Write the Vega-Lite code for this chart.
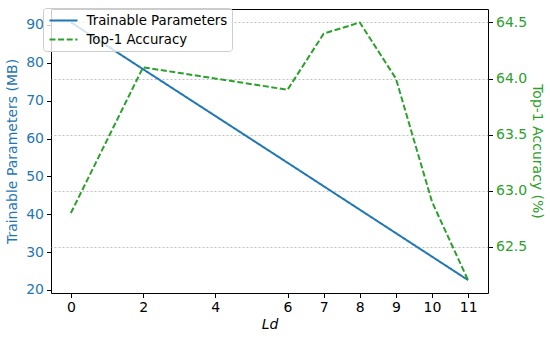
{
  "$schema": "https://vega.github.io/schema/vega-lite/v6.json",
  "width": 437,
  "height": 284,
  "autosize": "none",
  "padding": {"left": 51, "top": 9, "right": 62, "bottom": 45},
  "config": {
    "view": {"stroke": "black", "strokeWidth": 1},
    "font": "DejaVu Sans",
    "axis": {
      "labelFont": "DejaVu Sans",
      "titleFont": "DejaVu Sans",
      "labelFontSize": 14,
      "titleFontSize": 14,
      "titleFontWeight": "normal",
      "domain": false,
      "tickColor": "black",
      "tickSize": 4.5,
      "tickWidth": 1,
      "labelPadding": 3
    },
    "legend": {
      "labelFont": "DejaVu Sans",
      "labelFontSize": 13.3,
      "labelColor": "black"
    }
  },
  "layer": [
    {
      "data": {
        "values": [
          {"Ld": 0, "value": 90.7, "series": "Trainable Parameters"},
          {"Ld": 2, "value": 78.3, "series": "Trainable Parameters"},
          {"Ld": 6, "value": 53.6, "series": "Trainable Parameters"},
          {"Ld": 7, "value": 47.4, "series": "Trainable Parameters"},
          {"Ld": 8, "value": 41.2, "series": "Trainable Parameters"},
          {"Ld": 9, "value": 35.0, "series": "Trainable Parameters"},
          {"Ld": 10, "value": 28.8, "series": "Trainable Parameters"},
          {"Ld": 11, "value": 22.6, "series": "Trainable Parameters"}
        ]
      },
      "mark": {"type": "line", "strokeWidth": 2, "clip": true},
      "encoding": {
        "x": {
          "field": "Ld", "type": "quantitative",
          "scale": {"domain": [-0.55, 11.55], "nice": false, "zero": false},
          "axis": {
            "values": [0, 2, 4, 6, 7, 8, 9, 10, 11],
            "grid": false,
            "title": "Ld",
            "titleFontStyle": "italic",
            "titlePadding": 3,
            "labelColor": "black",
            "titleColor": "black"
          }
        },
        "y": {
          "field": "value", "type": "quantitative",
          "scale": {"domain": [19.2, 94.2], "nice": false, "zero": false},
          "axis": {
            "orient": "left",
            "values": [20, 30, 40, 50, 60, 70, 80, 90],
            "grid": false,
            "title": "Trainable Parameters (MB)",
            "labelColor": "#1f77b4",
            "titleColor": "#1f77b4",
            "titlePadding": 6
          }
        },
        "color": {
          "field": "series", "type": "nominal",
          "scale": {"domain": ["Trainable Parameters", "Top-1 Accuracy"], "range": ["#1f77b4", "#2ca02c"]},
          "legend": {
            "title": null,
            "orient": "none",
            "legendX": -8,
            "legendY": -1,
            "padding": 4.5,
            "rowPadding": 4,
            "symbolType": "M-2,0H2",
            "symbolSize": 196,
            "symbolOffset": 8,
            "symbolStrokeWidth": 2,
            "labelOffset": 15,
            "fillColor": "rgba(255,255,255,0.8)",
            "strokeColor": "#cccccc",
            "cornerRadius": 3
          }
        },
        "strokeDash": {
          "field": "series", "type": "nominal",
          "scale": {"domain": ["Trainable Parameters", "Top-1 Accuracy"], "range": [[1, 0], [6, 2.6]]},
          "legend": {
            "title": null,
            "orient": "none",
            "legendX": -8,
            "legendY": -1,
            "padding": 4.5,
            "rowPadding": 4,
            "symbolType": "M-2,0H2",
            "symbolSize": 196,
            "symbolOffset": 8,
            "symbolStrokeWidth": 2,
            "labelOffset": 15,
            "fillColor": "rgba(255,255,255,0.8)",
            "strokeColor": "#cccccc",
            "cornerRadius": 3
          }
        }
      }
    },
    {
      "data": {
        "values": [
          {"Ld": 0, "value": 62.8, "series": "Top-1 Accuracy"},
          {"Ld": 2, "value": 64.1, "series": "Top-1 Accuracy"},
          {"Ld": 6, "value": 63.9, "series": "Top-1 Accuracy"},
          {"Ld": 7, "value": 64.4, "series": "Top-1 Accuracy"},
          {"Ld": 8, "value": 64.5, "series": "Top-1 Accuracy"},
          {"Ld": 9, "value": 64.0, "series": "Top-1 Accuracy"},
          {"Ld": 10, "value": 62.9, "series": "Top-1 Accuracy"},
          {"Ld": 11, "value": 62.2, "series": "Top-1 Accuracy"}
        ]
      },
      "mark": {"type": "line", "strokeWidth": 2, "clip": true},
      "encoding": {
        "x": {"field": "Ld", "type": "quantitative"},
        "y": {
          "field": "value", "type": "quantitative",
          "scale": {"domain": [62.087, 64.62], "nice": false, "zero": false},
          "axis": {
            "orient": "right",
            "values": [62.5, 63.0, 63.5, 64.0, 64.5],
            "format": ".1f",
            "grid": true,
            "gridColor": "#b0b0b0",
            "gridDash": [2, 2],
            "gridWidth": 0.8,
            "title": "Top-1 Accuracy (%)",
            "labelColor": "#2ca02c",
            "titleColor": "#2ca02c",
            "titlePadding": 3
          }
        },
        "color": {"field": "series", "type": "nominal"},
        "strokeDash": {"field": "series", "type": "nominal"}
      }
    }
  ],
  "resolve": {"scale": {"y": "independent"}}
}
